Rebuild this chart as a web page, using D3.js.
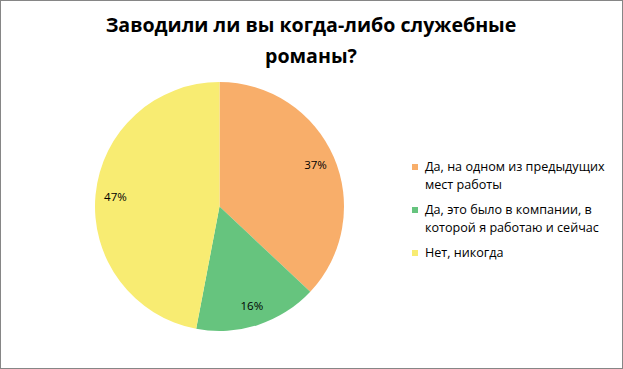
<!DOCTYPE html>
<html><head><meta charset="utf-8">
<script src="https://cdn.jsdelivr.net/npm/d3@7"></script>
<style>body{margin:0;background:#fff}svg{display:block}</style>
</head><body>
<svg id="c" width="623" height="369"></svg>
<script>
const categories = ["Да, на одном из предыдущих мест работы", "Да, это было в компании, в которой я работаю и сейчас", "Нет, никогда"];
const legendLines = [["Да, на одном из предыдущих", "мест работы"], ["Да, это было в компании, в", "которой я работаю и сейчас"], ["Нет, никогда"]];
const values = [37, 16, 47];
const colors = ["#F8AE6A", "#66C47E", "#F8EC72"];
const titleLines = ["Заводили ли вы когда-либо служебные", "романы?"];

const svg = d3.select("#c");
const font = "'Open Sans', 'Noto Sans', sans-serif";
svg.append("rect").attr("x",0.5).attr("y",0.5).attr("width",622).attr("height",368)
  .attr("fill","#fff").attr("stroke","#868686").attr("stroke-width",1);

const title = svg.append("text").attr("text-anchor","middle").attr("font-family",font)
  .attr("font-weight","bold").attr("font-size",19.6).attr("fill","#000");
title.selectAll("tspan").data(titleLines).join("tspan")
  .attr("x",311).attr("y",(d,i)=>32+i*31).text(d=>d);

const cx = 219.5, cy = 206.5, r = 124.5;
const pie = d3.pie().sort(null).value(d=>d);
const arcs = pie(values);
const arc = d3.arc().innerRadius(0).outerRadius(r);
const g = svg.append("g").attr("transform",`translate(${cx},${cy})`);
g.selectAll("path").data(arcs).join("path").attr("d",arc).attr("fill",(d,i)=>colors[i]);
const labelArc = d3.arc().innerRadius(r*0.84).outerRadius(r*0.84);
g.selectAll("text").data(arcs).join("text")
  .attr("transform",d=>`translate(${labelArc.centroid(d)})`)
  .attr("text-anchor","middle").attr("dy","0.35em")
  .attr("font-family",font).attr("font-size",11.5).attr("fill","#000")
  .text(d=>d3.format(".0%")(d.data/100));

const legY = [171, 214, 257];
const leg = svg.append("g");
legendLines.forEach((lines,i)=>{
  leg.append("rect").attr("x",412).attr("y",legY[i]-7).attr("width",6).attr("height",6).attr("fill",colors[i]);
  const t = leg.append("text").attr("font-family",font).attr("font-size",12.6).attr("fill","#000");
  lines.forEach((l,j)=>t.append("tspan").attr("x",425).attr("y",legY[i]+j*17.5).text(l));
});
</script>
</body></html>
